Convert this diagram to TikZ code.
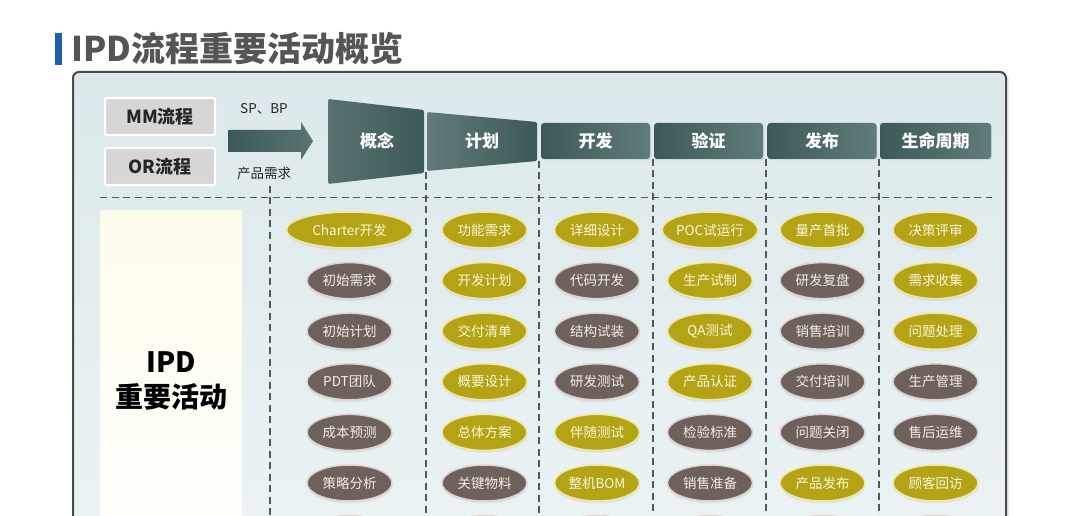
\documentclass[tikz,border=0pt]{standalone}
\usepackage{fontspec}
\setmainfont{Noto Sans CJK SC}
\usetikzlibrary{shapes.geometric,shadows}
\definecolor{titleblue}{HTML}{1F5EA8}
\definecolor{titlegrey}{HTML}{555555}
\definecolor{framegrey}{HTML}{4A4A4A}
\definecolor{frametop}{HTML}{DCE8EB}
\definecolor{framebot}{HTML}{EEF5F6}
\definecolor{ipdtop}{HTML}{FDFBEA}
\definecolor{boxgrey}{HTML}{D6D6D6}
\definecolor{hdrdark}{HTML}{3B5958}
\definecolor{hdrlight}{HTML}{607C7B}
\definecolor{olvfill}{HTML}{B5A316}
\definecolor{olvedge}{HTML}{F0E8A2}
\definecolor{olvtext}{HTML}{FAF6DC}
\definecolor{brnfill}{HTML}{6E605A}
\definecolor{brnedge}{HTML}{DCD3CD}
\definecolor{brntext}{HTML}{F2EEEA}
\definecolor{divgrey}{HTML}{505A5C}
\tikzset{
  ovalbase/.style={ellipse, line width=1.5pt, minimum width=85, minimum height=36, inner sep=0pt,
    font=\fontsize{13.5}{13.5}\selectfont,
    drop shadow={opacity=0.12, shadow xshift=0.5pt, shadow yshift=-2.5pt}},
  olv/.style={ovalbase, fill=olvfill, draw=olvedge, text=olvtext},
  olvw/.style={olv, minimum width=126},
  brn/.style={ovalbase, fill=brnfill, draw=brnedge, text=brntext},
  procbox/.style={rectangle, rounded corners=2pt, minimum width=110, minimum height=37, inner sep=0pt,
    fill=boxgrey, draw=white, line width=2pt, text=black!85,
    font=\fontsize{18}{18}\selectfont\bfseries},
  hdr/.style={rectangle, rounded corners=3pt, minimum width=109, minimum height=36, inner sep=0pt,
    left color=hdrdark, right color=hdrlight, text=white,
    font=\fontsize{17}{17}\selectfont\bfseries,
    drop shadow={opacity=0.15, shadow xshift=1pt, shadow yshift=-1.5pt}},
  divider/.style={draw=divgrey, line width=1.1pt, dash pattern=on 7pt off 4.5pt},
  smalltxt/.style={inner sep=0pt, text=black!85, font=\fontsize{13.5}{13.5}\selectfont}
}
\begin{document}
\begin{tikzpicture}[x=1pt,y=-1pt]
\useasboundingbox (0,0) rectangle (1080,516);
\fill[white] (0,0) rectangle (1080,516);

% title
\fill[titleblue] (55,33) rectangle (62,65);
\node[anchor=west, inner sep=0pt, text=titlegrey, font=\fontsize{34}{34}\selectfont\bfseries] (title) at (71,49) {IPD流程重要活动概览};

% frame
\path[draw=framegrey, line width=2pt, rounded corners=6pt, top color=frametop, bottom color=framebot,
  drop shadow={opacity=0.15, shadow xshift=3pt, shadow yshift=-2pt}] (73,72) rectangle (1006,620);

% IPD label box
\path[top color=ipdtop, bottom color=white, rounded corners=2pt] (100,210) rectangle (242,620);
\node[align=center, inner sep=0pt, font=\fontsize{28}{35}\selectfont\bfseries, text=black] (ipd) at (171,381) {IPD\\重要活动};

% MM / OR
\node[procbox] (mm) at (160,116.5) {MM流程};
\node[procbox] (or) at (160,166.5) {OR流程};
\node[smalltxt] (spbp) at (264,109) {SP、BP};
\node[smalltxt] (req) at (264,173) {产品需求};

% block arrow
\path[left color=hdrdark, right color=hdrlight!80!hdrdark]
  (228,130) -- (301,130) -- (301,122) -- (313,141) -- (301,160) -- (301,152) -- (228,152) -- cycle;

% funnel
\path[left color=hdrdark!85!white, right color=hdrdark, rounded corners=1.5pt]
  (328,99) -- (424,110) -- (424,173) -- (328,184) -- cycle;
\node[inner sep=0pt, text=white, font=\fontsize{17}{17}\selectfont\bfseries] (gn) at (377,141) {概念};
\path[left color=hdrdark!80!white, right color=hdrdark, rounded corners=1.5pt]
  (427,112) -- (537,122) -- (537,161) -- (427,171) -- cycle;
\node[inner sep=0pt, text=white, font=\fontsize{17}{17}\selectfont\bfseries] (jh) at (482,141) {计划};

% headers
\node[hdr] (kf) at (595.5,141) {开发};
\node[hdr] (yz) at (708.5,141) {验证};
\node[hdr] (fb) at (822,141) {发布};
\node[hdr, minimum width=111] (smzq) at (935.5,141) {生命周期};

% dividers
\coordinate (hl) at (100,197.5);
\coordinate (hr) at (992,197.5);
\draw[divider] (hl) -- (hr);
\coordinate (v1t) at (270,186);  \coordinate (v1b) at (270,620);
\coordinate (v2t) at (426,172);  \coordinate (v2b) at (426,620);
\coordinate (v3t) at (539,161);  \coordinate (v3b) at (539,620);
\coordinate (v4t) at (653,159);  \coordinate (v4b) at (653,620);
\coordinate (v5t) at (766,159);  \coordinate (v5b) at (766,620);
\coordinate (v6t) at (879,159);  \coordinate (v6b) at (879,620);
\foreach \i in {1,...,6} \draw[divider] (v\i t) -- (v\i b);

% ovals
\foreach \t/\s [count=\r] in {Charter开发/olvw, 初始需求/brn, 初始计划/brn, PDT团队/brn, 成本预测/brn, 策略分析/brn, {}/brn}
  \node[\s] (c1r\r) at (349.5,{230+50.6*(\r-1)}) {\t};
\foreach \t/\s [count=\r] in {功能需求/olv, 开发计划/olv, 交付清单/olv, 概要设计/olv, 总体方案/olv, 关键物料/brn, {}/brn}
  \node[\s] (c2r\r) at (484.5,{230+50.6*(\r-1)}) {\t};
\foreach \t/\s [count=\r] in {详细设计/olv, 代码开发/brn, 结构试装/brn, 研发测试/brn, 伴随测试/olv, 整机BOM/olv, {}/brn}
  \node[\s] (c3r\r) at (597,{230+50.6*(\r-1)}) {\t};
\foreach \t/\s [count=\r] in {POC试运行/olv, 生产试制/olv, QA测试/olv, 产品认证/olv, 检验标准/brn, 销售准备/brn, {}/brn}
  \node[\s] (c4r\r) at (710,{230+50.6*(\r-1)}) {\t};
\foreach \t/\s [count=\r] in {量产首批/olv, 研发复盘/brn, 销售培训/brn, 交付培训/brn, 问题关闭/brn, 产品发布/olv, {}/brn}
  \node[\s] (c5r\r) at (822.5,{230+50.6*(\r-1)}) {\t};
\foreach \t/\s [count=\r] in {决策评审/olv, 需求收集/olv, 问题处理/olv, 生产管理/brn, 售后运维/brn, 顾客回访/olv, {}/brn}
  \node[\s] (c6r\r) at (935.5,{230+50.6*(\r-1)}) {\t};
\end{tikzpicture}
\end{document}
